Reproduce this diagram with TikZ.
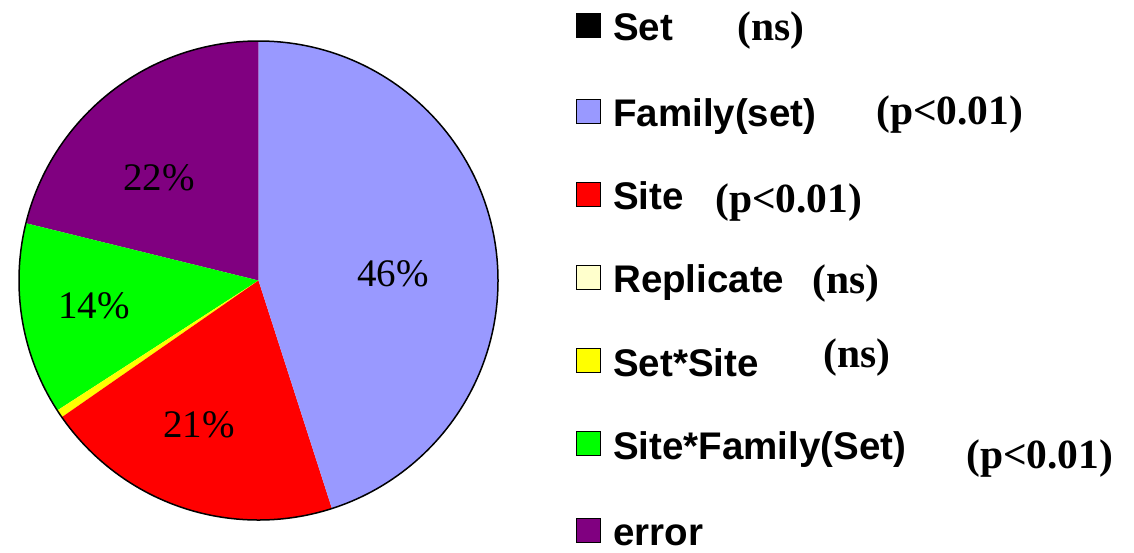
\documentclass[tikz,border=0pt]{standalone}
\usepackage{fontspec}
\setmainfont{Liberation Serif}
\newfontfamily\legsans{Liberation Sans}
\definecolor{famcol}{HTML}{9999FF}
\definecolor{sitecol}{HTML}{FF0000}
\definecolor{repcol}{HTML}{FFFFCC}
\definecolor{sscol}{HTML}{FFFF00}
\definecolor{sfcol}{HTML}{00FF00}
\definecolor{errcol}{HTML}{800080}
\tikzset{
  pct/.style={inner sep=0pt, anchor=base west, font=\fontsize{39}{39}\selectfont},
  key/.style={draw=black, line width=0.8pt, minimum size=24pt, inner sep=0pt, anchor=south west},
  keytext/.style={inner sep=0pt, anchor=base west, font=\legsans\bfseries\fontsize{38.5}{38.5}\selectfont},
  sig/.style={inner sep=0pt, anchor=base west, font=\bfseries\fontsize{41.5}{41.5}\selectfont},
}
% slice between two angles (measured counter-clockwise from the +x axis)
\newcommand{\pieslice}[3]{%
  \fill[#3] (258.5,280.5) -- ++(-#1:239.5) arc[start angle=-#1, end angle=-#2, radius=239.5] -- cycle;}
\begin{document}
\begin{tikzpicture}[x=1pt, y=-1pt]
  \useasboundingbox (0,0) rectangle (1134,552);
  % pie
  \pieslice{90}{166.16}{errcol}
  \pieslice{166.16}{212.85}{sfcol}
  \pieslice{212.85}{214.8}{sscol}
  \pieslice{214.8}{287.85}{sitecol}
  \pieslice{287.85}{450}{famcol}
  \draw[line width=1.5pt] (258.5,280.5) circle[radius=239.5];
  % slice labels
  \node[pct] (pfam) at (357,286) {46\%};
  \node[pct] (perr) at (123,190) {22\%};
  \node[pct] (psite) at (163,437) {21\%};
  \node[pct] (psf) at (58,318) {14\%};
  % legend
  \node[key, fill=black] (k1) at (576,38) {};
  \node[keytext] (t1) at (613,40) {Set};
  \node[sig] (s1) at (737,40) {(ns)};
  \node[key, fill=famcol] (k2) at (576,124) {};
  \node[keytext] (t2) at (613,126) {Family(set)};
  \node[sig] (s2) at (876,124) {(p<0.01)};
  \node[key, fill=sitecol] (k3) at (576,207) {};
  \node[keytext] (t3) at (613,209) {Site};
  \node[sig] (s3) at (715,212) {(p<0.01)};
  \node[key, fill=repcol] (k4) at (576,290) {};
  \node[keytext] (t4) at (613,292) {Replicate};
  \node[sig] (s4) at (812,293) {(ns)};
  \node[key, fill=sscol] (k5) at (576,373) {};
  \node[keytext] (t5) at (613,376) {Set*Site};
  \node[sig] (s5) at (823,367) {(ns)};
  \node[key, fill=sfcol] (k6) at (576,456) {};
  \node[keytext] (t6) at (613,459) {Site*Family(Set)};
  \node[sig] (s6) at (966,468) {(p<0.01)};
  \node[key, fill=errcol] (k7) at (576,543) {};
  \node[keytext] (t7) at (613,545) {error};
\end{tikzpicture}
\end{document}
